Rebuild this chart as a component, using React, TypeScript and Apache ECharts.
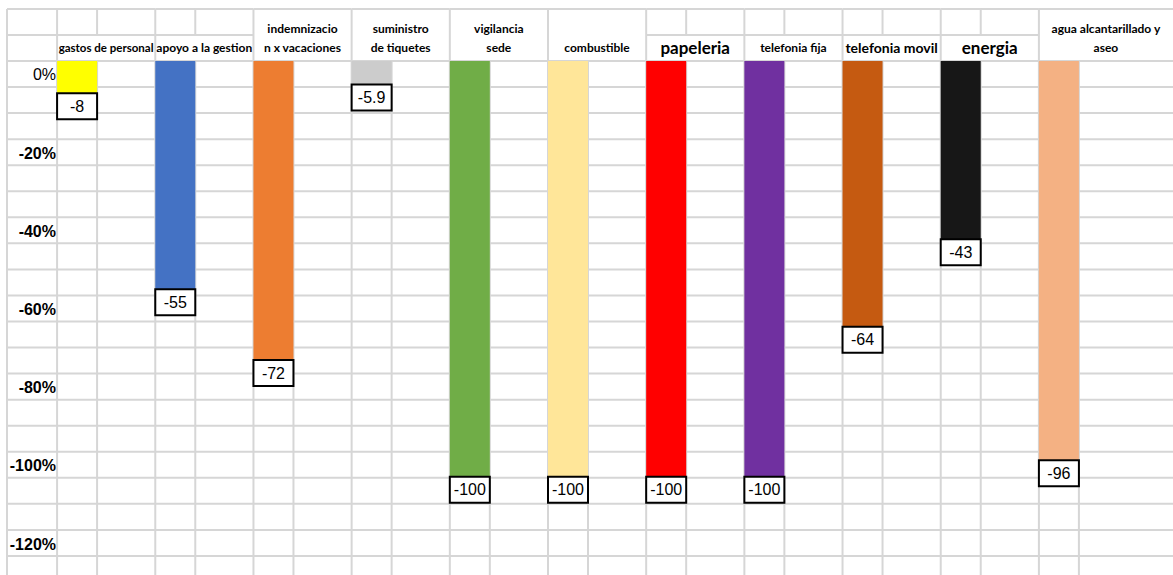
import React, { useEffect, useRef } from "react";
import * as echarts from "echarts";

// ---- data ----
const CATEGORIES: string[] = [
  "gastos de personal",
  "apoyo a la gestion",
  "indemnizacio\nn x vacaciones",
  "suministro\nde tiquetes",
  "vigilancia\nsede",
  "combustible",
  "papeleria",
  "telefonia fija",
  "telefonia movil",
  "energia",
  "agua alcantarillado y\naseo",
];
const VALUES: number[] = [-8, -55, -72, -5.9, -100, -100, -100, -100, -64, -43, -96];
const Y_TICKS: number[] = [0, -20, -40, -60, -80, -100, -120];

// ---- styles ----
const COLORS = [
  "#FFFF00",
  "#4472C4",
  "#ED7D31",
  "#CCCCCC",
  "#70AD47",
  "#FFE699",
  "#FF0000",
  "#7030A0",
  "#C55A11",
  "#171717",
  "#F4B183",
];
const TWO_ROW_HEADERS = [
  "indemnizacio\nn x vacaciones",
  "suministro\nde tiquetes",
  "vigilancia\nsede",
  "combustible",
  "agua alcantarillado y\naseo",
];
const HEADER_FONT_SIZES: Record<string, number> = {
  "gastos de personal": 11.5,
  papeleria: 17,
  energia: 17,
  "telefonia movil": 14,
};
// label padding (left) used to shift header text right inside its cell
const HEADER_PAD: Record<string, number> = {
  "agua alcantarillado y\naseo": 94,
};
const W = 1173;
const H = 575;
const BAR_W = 40;
const ROW = 6.25; // spreadsheet row in axis units
const FIRST_COL_X = 7;
const GRID_COLOR = "#d6d6d6";

export default function App() {
  const ref = useRef<HTMLDivElement>(null);

  useEffect(() => {
    if (!ref.current) return;
    const chart = echarts.init(ref.current, null, { renderer: "svg" });
    const n = CATEGORIES.length;

    const renderGrid = (params: any, api: any) => {
      const i = api.value(0);
      const [cx, y0] = api.coord([i, 0]);
      const step = api.size([1, 0])[0];
      const rowH = api.size([0, ROW])[1];
      const left = cx - BAR_W / 2;
      const right = cx + BAR_W / 2;
      const x0 = i === 0 ? FIRST_COL_X : left;
      const x1 = i === n - 1 ? api.getWidth() : left + step;
      const top = y0 - 2 * rowH;
      const mid = y0 - rowH;
      const bottom = api.getHeight();
      const merged = TWO_ROW_HEADERS.includes(CATEGORIES[i]);
      const style = { stroke: GRID_COLOR, lineWidth: 2 };
      const children: any[] = [];
      const hl = (y: number, a: number, b: number) =>
        children.push({ type: "line", shape: { x1: a, y1: y, x2: b, y2: y }, style });
      const vl = (x: number, a: number, b: number) =>
        children.push({ type: "line", shape: { x1: x, y1: a, x2: x, y2: b }, style });
      for (let y = y0; y <= bottom + 1; y += rowH) hl(y, x0, x1);
      hl(top, x0, x1);
      if (i === 0) {
        hl(mid, x0, left);
        vl(x0, top, bottom);
      }
      if (!merged) {
        hl(mid, left, x1);
        vl(right, top, mid);
      }
      vl(left, top, bottom);
      vl(right, y0, bottom);
      return { type: "group", children };
    };

    const option: any = {
      animation: false,
      backgroundColor: "#ffffff",
      grid: {
        left: 28,
        width: 1080,
        top: 61,
        height: 521,
        containLabel: false,
        outerBoundsMode: "none",
      },
      xAxis: {
        type: "category",
        position: "top",
        data: CATEGORIES.map((c) => ({
          value: c,
          textStyle: {
            fontSize: HEADER_FONT_SIZES[c] ?? 12,
            padding: [0, 0, 0, HEADER_PAD[c] ?? 58],
          },
        })),
        axisLine: { show: false, onZero: false },
        axisTick: { show: false },
        splitLine: { show: false },
        axisLabel: {
          interval: 0,
          margin: 4,
          color: "#000",
          fontFamily: "Lato",
          fontWeight: "bold",
          fontSize: 12,
          lineHeight: 19,
          hideOverlap: false,
        },
      },
      yAxis: [
        {
          type: "value",
          min: -125,
          max: 0,
          show: false,
        },
        {
          type: "value",
          min: -129.7,
          max: 3.58,
          position: "left",
          offset: -30,
          axisLine: { show: false },
          axisTick: { show: false },
          splitLine: { show: false },
          axisLabel: {
            customValues: Y_TICKS,
            margin: 2,
            color: "#000",
            fontFamily: "Liberation Sans",
            fontSize: 16,
            formatter: (v: number) => (v === 0 ? `{n|0%}` : `{b|${v}%}`),
            rich: {
              n: { fontWeight: "normal", fontSize: 16, fontFamily: "Liberation Sans", color: "#000" },
              b: { fontWeight: "bold", fontSize: 16, fontFamily: "Liberation Sans", color: "#000" },
            },
          },
        },
      ],
      series: [
        {
          type: "custom",
          silent: true,
          z: 1,
          xAxisIndex: 0,
          yAxisIndex: 0,
          data: CATEGORIES.map((_, i) => [i, 0]),
          encode: { x: 0, y: 1 },
          renderItem: renderGrid,
        },
        {
          type: "bar",
          z: 3,
          xAxisIndex: 0,
          yAxisIndex: 0,
          barWidth: BAR_W,
          data: VALUES.map((v, i) => ({ value: v, itemStyle: { color: COLORS[i] } })),
          label: {
            show: true,
            position: "bottom",
            distance: 0,
            formatter: (p: any) => String(p.value),
            color: "#000",
            fontFamily: "Liberation Sans",
            fontSize: 16,
            backgroundColor: "#fff",
            borderColor: "#000",
            borderWidth: 2,
            width: 38,
            height: 24,
            lineHeight: 24,
          },
        },
      ],
    };
    chart.setOption(option);
    return () => chart.dispose();
  }, []);

  return (
    <div
      ref={ref}
      style={{ position: "absolute", left: 0, top: 0, width: W, height: H, background: "#fff" }}
    />
  );
}
